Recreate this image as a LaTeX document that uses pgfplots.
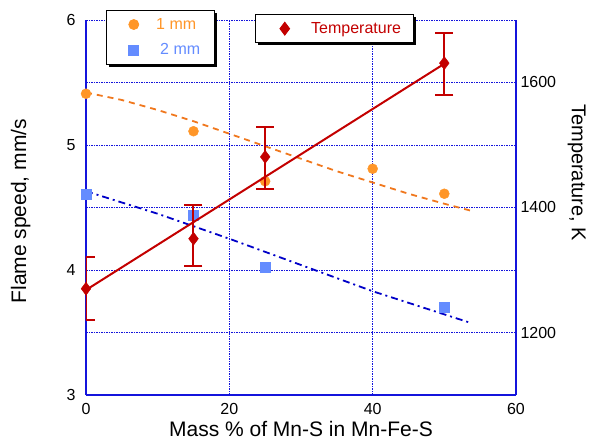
\documentclass[border=0pt]{standalone}
\usepackage{pgfplots}
\pgfplotsset{compat=1.18}
\usepackage{fontspec}
\setmainfont{Liberation Sans}
\usetikzlibrary{shadows}
\definecolor{orangeM}{RGB}{255,150,40}
\definecolor{orangeL}{RGB}{240,120,30}
\definecolor{blueM}{RGB}{100,140,255}
\definecolor{blueL}{RGB}{0,0,200}
\definecolor{redT}{RGB}{195,0,0}
\definecolor{gridB}{RGB}{20,20,220}
\begin{document}
\begin{tikzpicture}[x=1pt,y=1pt]
\useasboundingbox (-86,-48) rectangle (504,395);
\pgfplotsset{
  every axis/.append style={
    scale only axis, width=430pt, height=375pt,
    xmin=0, xmax=60,
    /pgf/number format/assume math mode=true,
    /pgf/number format/1000 sep={},
    tick label style={font=\fontsize{16}{18}\selectfont},
    label style={font=\fontsize{21}{24}\selectfont},
    axis line style={gridB, line width=1.2pt},
    major tick length=0pt,
  }
}
\begin{axis}[
  axis y line*=left, axis x line*=bottom,
  ymin=3, ymax=6,
  xtick={0,20,40,60}, ytick={3,4,5,6},
  minor ytick={3.5,4.5,5.5},
  minor tick length=0pt,
  grid=both,
  major grid style={gridB, line width=0.9pt, dash pattern=on 2pt off 1pt on 1pt off 1pt},
  minor grid style={gridB, line width=0.9pt, dash pattern=on 2pt off 1pt on 1pt off 1pt},
  xticklabel style={yshift=-5pt},
  yticklabel style={xshift=-7pt},
  xlabel={Mass \% of Mn-S in Mn-Fe-S},
  xlabel style={at={(axis description cs:0.5,-0.092)}, anchor=center},
  ylabel={Flame speed, mm/s},
  ylabel style={at={(axis description cs:-0.152,0.49)}, anchor=center},
  legend style={at={(0.0465,1.027)}, anchor=north west, draw=black, line width=0.8pt,
    fill=white, drop shadow={shadow xshift=2.5pt, shadow yshift=-2.5pt, fill=black, opacity=1},
    font=\fontsize{16}{18}\selectfont, row sep=9pt, inner xsep=12pt, inner ysep=6pt},
  legend image code/.code={\path (0pt,0pt) (20pt,0pt); \draw[#1] plot coordinates {(15pt,0pt)};},
  legend cell align=left,
]
\addplot[only marks, mark=*, mark size=5pt, color=orangeM] coordinates {
(0,5.41) (15,5.11) (25,4.71) (40,4.81) (50,4.61)};
\addlegendentry{\hspace{15pt}\textcolor{orangeM}{1 mm}}
\addplot[only marks, mark=square*, mark size=5pt, color=blueM] coordinates {
(0,4.61) (15,4.44) (25,4.02) (50,3.70)};
\addlegendentry{\hspace{19pt}\textcolor{blueM}{2 mm}}
\addplot[forget plot, orangeL, line width=1.8pt, dash pattern=on 6pt off 5pt] coordinates {
(0,5.42) (5,5.36) (10,5.28) (15,5.19) (20,5.09) (25,4.99) (30,4.89) (35,4.79) (40,4.70) (45,4.61) (50,4.53) (54,4.47)};
\addplot[forget plot, blueL, line width=1.8pt, dash pattern=on 7pt off 4pt on 2pt off 4pt] coordinates {
(0,4.63) (10,4.45) (20,4.25) (30,4.04) (40,3.83) (53.5,3.58)};
\end{axis}
\begin{axis}[
  axis y line*=right, axis x line=none,
  ymin=1100, ymax=1700,
  ytick={1200,1400,1600},
  yticklabel style={xshift=1pt},
  ylabel={Temperature, K},
  ylabel style={at={(axis description cs:1.141,0.593)}, anchor=center, rotate=180, font=\fontsize{20}{23}\selectfont},
  legend style={at={(0.393,1.016)}, anchor=north west, draw=black, line width=0.8pt,
    fill=white, drop shadow={shadow xshift=2.5pt, shadow yshift=-2.5pt, fill=black, opacity=1},
    font=\fontsize{16}{18}\selectfont, inner xsep=10pt, inner ysep=6pt},
  legend image code/.code={\path (0pt,0pt) (25pt,0pt); \draw[#1] plot coordinates {(19pt,0pt)};},
]
\addplot[forget plot, redT, line width=2pt] coordinates {(0,1268) (50,1630)};
\addplot[only marks, mark=diamond*, mark size=6.5pt, color=redT,
  error bars/.cd, y dir=both, y explicit,
  error bar style={line width=2pt, redT},
  error mark options={rotate=90, mark size=9pt, line width=2pt, redT}]
  coordinates {
  (0,1270) +- (0,50)
  (15,1350) += (0,54) -= (0,44)
  (25,1481) += (0,48) -= (0,51)
  (50,1631) += (0,48) -= (0,51)
};
\addlegendentry{\hspace{18pt}\textcolor{redT}{Temperature}}
\end{axis}
\end{tikzpicture}
\end{document}
